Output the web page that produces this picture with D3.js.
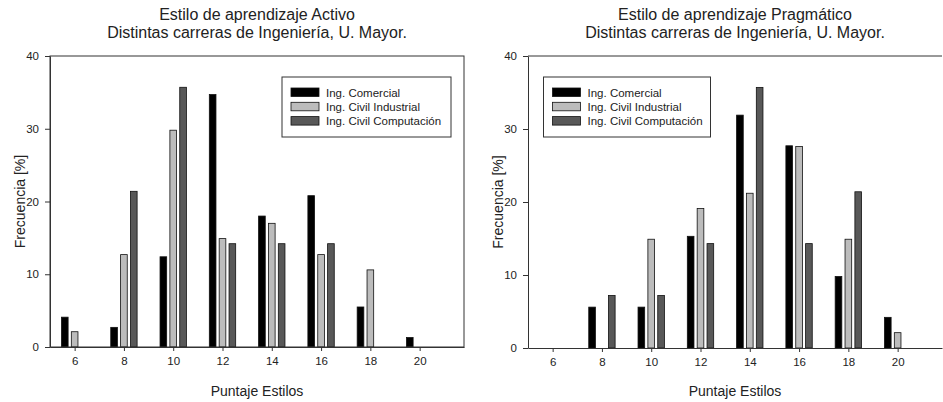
<!DOCTYPE html>
<html>
<head>
<meta charset="utf-8">
<script src="https://cdn.jsdelivr.net/npm/d3@7"></script>
<style>
  body { margin: 0; background: #fff; }
  svg { display: block; font-family: "Liberation Sans", Arial, sans-serif; }
</style>
</head>
<body>
<div id="chart"></div>
<script>
// x categories (puntaje)
const puntajes = [6, 8, 10, 12, 14, 16, 18, 20];
const seriesNames = ['Ing. Comercial', 'Ing. Civil Industrial', 'Ing. Civil Computación'];
const yTicks = [0, 10, 20, 30, 40];

// Estilo Activo
const activoComercial   = [4.1, 2.7, 12.4, 34.7, 18.0, 20.8, 5.5, 1.3];
const activoIndustrial  = [2.1, 12.7, 29.8, 14.9, 17.0, 12.7, 10.6, 0];
const activoComputacion = [0, 21.4, 35.7, 14.2, 14.2, 14.2, 0, 0];

// Estilo Pragmatico
const pragComercial   = [0, 5.6, 5.6, 15.3, 31.9, 27.7, 9.8, 4.2];
const pragIndustrial  = [0, 0, 14.9, 19.1, 21.2, 27.6, 14.9, 2.1];
const pragComputacion = [0, 7.2, 7.2, 14.3, 35.7, 14.3, 21.4, 0];

const fills = ['#000000', '#bcbcbc', '#585858'];
const offsets = [-0.4, 0, 0.4];

const width = 943, height = 402;

const svg = d3.select('#chart')
    .append('svg')
    .attr('width', width)
    .attr('height', height);

function drawPanel(cfg) {

    const x = d3.scaleLinear().domain([5, 21.8]).range([cfg.left, cfg.left + 414]);
    const y = d3.scaleLinear().domain([0, 40]).range([cfg.bottom, 56]);
    const barW = x(5.27) - x(5);

    const g = svg.append('g');

    // titles
    const cx = cfg.left + 207;
    g.append('text').attr('x', cx).attr('y', 20).attr('text-anchor', 'middle')
        .attr('font-size', 16).attr('fill', '#222').text(cfg.title);
    g.append('text').attr('x', cx).attr('y', 38).attr('text-anchor', 'middle')
        .attr('font-size', 16).attr('fill', '#222').text('Distintas carreras de Ingeniería, U. Mayor.');

    // bars
    cfg.series.forEach((vals, si) => {
        g.append('g').selectAll('rect')
            .data(puntajes.map((p, i) => ({p: p, v: vals[i]})).filter(d => d.v > 0))
            .enter().append('rect')
            .attr('x', d => x(d.p + offsets[si]) - barW / 2)
            .attr('y', d => y(d.v))
            .attr('width', barW)
            .attr('height', d => y(0) - y(d.v))
            .attr('fill', fills[si])
            .attr('stroke', '#111')
            .attr('stroke-width', 0.8);
    });

    // frame
    if (cfg.frame) {
        g.append('rect').attr('x', cfg.left).attr('y', 56)
            .attr('width', 414).attr('height', cfg.bottom - 56)
            .attr('fill', 'none').attr('stroke', '#333').attr('stroke-width', 1);
    } else {
        g.append('line').attr('x1', cfg.left).attr('x2', cfg.left + 414)
            .attr('y1', 56).attr('y2', 56).attr('stroke', '#333');
    }

    // axes
    const xAxis = g.append('g')
        .attr('transform', 'translate(0,' + cfg.bottom + ')')
        .call(d3.axisBottom(x).tickValues(puntajes).tickSize(4).tickPadding(6).tickSizeOuter(0));
    const yAxis = g.append('g')
        .attr('transform', 'translate(' + cfg.left + ',0)')
        .call(d3.axisLeft(y).tickValues(yTicks).tickSize(5).tickPadding(6).tickSizeOuter(0));

    [xAxis, yAxis].forEach(a => {
        a.selectAll('path').attr('stroke', '#333');
        a.selectAll('line').attr('stroke', '#333');
        a.selectAll('text').attr('font-size', 11.5).attr('fill', '#222')
            .attr('font-family', '"Liberation Sans", Arial, sans-serif');
    });

    // axis titles
    g.append('text').attr('x', cx).attr('y', 396).attr('text-anchor', 'middle')
        .attr('font-size', 14).attr('fill', '#222').text('Puntaje Estilos');
    g.append('text')
        .attr('transform', 'translate(' + (cfg.left - 25) + ',' + ((56 + cfg.bottom) / 2) + ') rotate(-90)')
        .attr('text-anchor', 'middle')
        .attr('font-size', 14).attr('fill', '#222').text('Frecuencia [%]');

    // legend
    const lg = g.append('g').attr('transform', 'translate(' + cfg.legendX + ',77)');
    lg.append('rect').attr('width', cfg.legendW).attr('height', 60)
        .attr('fill', '#fff').attr('stroke', '#333').attr('stroke-width', 1);
    seriesNames.forEach((name, i) => {
        lg.append('rect').attr('x', 9).attr('y', 11 + i * 14.3)
            .attr('width', 28).attr('height', 8.5)
            .attr('fill', fills[i]).attr('stroke', '#111').attr('stroke-width', 0.8);
        lg.append('text').attr('x', 44).attr('y', 19.5 + i * 14.3)
            .attr('font-size', 11.5).attr('fill', '#222').text(name);
    });
}

drawPanel({
    left: 50, bottom: 347, frame: true,
    title: 'Estilo de aprendizaje Activo',
    series: [activoComercial, activoIndustrial, activoComputacion],
    legendX: 282, legendW: 169
});

drawPanel({
    left: 528, bottom: 348, frame: false,
    title: 'Estilo de aprendizaje Pragmático',
    series: [pragComercial, pragIndustrial, pragComputacion],
    legendX: 543.5, legendW: 167
});
</script>
</body>
</html>
